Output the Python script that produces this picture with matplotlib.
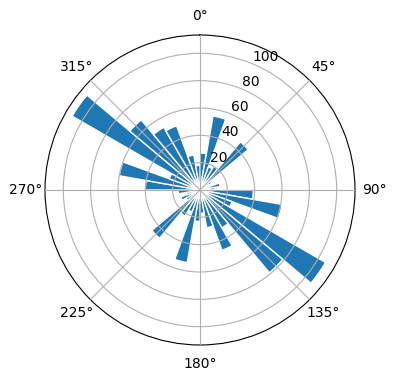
import numpy as np
import matplotlib
matplotlib.use("Agg")
import matplotlib.pyplot as plt

# bin centers in degrees (10-degree bins)
bin_centers_deg = [5, 15, 25, 35, 45, 55, 65, 75, 85,
                   95, 105, 115, 125, 135, 145, 155, 165, 175,
                   185, 195, 205, 215, 225, 235, 245, 255, 265,
                   275, 285, 295, 305, 315, 325, 335, 345, 355]
counts = [27, 55, 18, 20, 46, 10, 8, 15, 11,
          39, 61, 25, 106, 79, 32, 47, 28, 17,
          23, 54, 17, 22, 46, 12, 15, 10, 16,
          40, 60, 24, 108, 67, 53, 50, 26, 18]
bin_width_deg = 10

fig = plt.figure(figsize=(3.96, 3.8), dpi=100)
ax = fig.add_axes([45/396, 35/380, 310/396, 310/380], projection='polar')
ax.set_theta_zero_location('N')
ax.set_theta_direction(-1)
theta = np.deg2rad(bin_centers_deg)
ax.bar(theta, counts, width=np.deg2rad(bin_width_deg), bottom=0,
       color='#1f77b4', edgecolor='white', linewidth=1)
ax.set_axisbelow(False)
ax.grid(True)
fig.savefig('out.png', dpi=100)
